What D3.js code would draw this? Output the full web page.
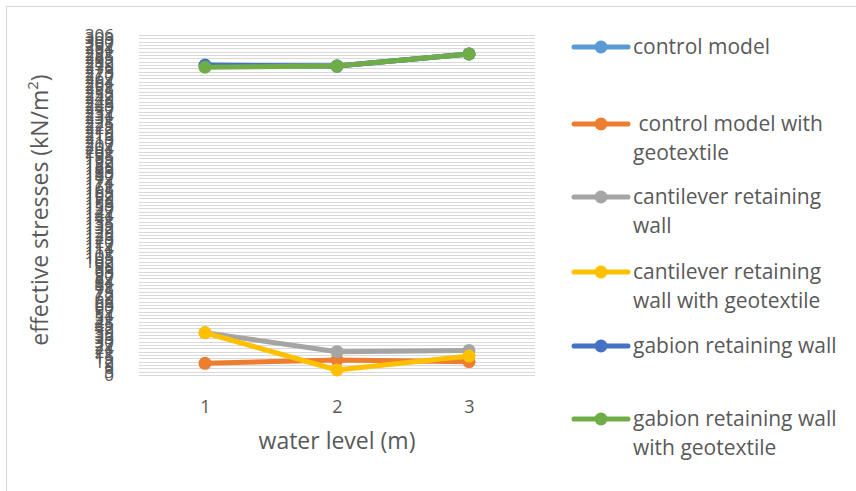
<!DOCTYPE html>
<html><head><meta charset="utf-8">
<script src="https://cdn.jsdelivr.net/npm/d3@7"></script>
<style>body{margin:0;background:#fff}svg{display:block;font-family:"Open Sans","Liberation Sans",sans-serif}</style>
</head><body><svg id="c" width="856" height="491"></svg>
<script>
const categories = [1, 2, 3];
const seriesNames = ["control model", " control model with geotextile", "cantilever retaining wall", "cantilever retaining wall with geotextile", "gabion retaining wall", "gabion retaining wall with geotextile"];
const controlModel = [278, 278, 289];
const controlModelGeo = [10.5, 13.5, 12];
const cantilever = [38, 21, 22];
const cantileverGeo = [38, 4.5, 17];
const gabion = [279, 278, 289];
const gabionGeo = [277, 278, 289];
const colors = ["#5B9BD5", "#ED7D31", "#A5A5A5", "#FFC000", "#4472C4", "#70AD47"];
const yTicks = d3.range(0, 307, 3);
const legendLines = [["control model"], [" control model with", "geotextile"], ["cantilever retaining", "wall"], ["cantilever retaining", "wall with geotextile"], ["gabion retaining wall"], ["gabion retaining wall", "with geotextile"]];

const series = [controlModel, controlModelGeo, cantilever, cantileverGeo, gabion, gabionGeo];
const svg = d3.select("#c");
svg.append("rect").attr("x", 6.5).attr("y", 6.5).attr("width", 860).attr("height", 500).attr("fill", "none").attr("stroke", "#D9D9D9");

const x = d3.scalePoint().domain(categories).range([205, 469]);
const y = d3.scaleLinear().domain([0, 306]).range([375, 35]);
const left = 139, right = 535;

const g = svg.append("g");
g.selectAll("line.grid").data(yTicks).join("line").attr("class", "grid")
  .attr("x1", left).attr("x2", right).attr("y1", d => Math.round(y(d)) + 0.5).attr("y2", d => Math.round(y(d)) + 0.5)
  .attr("stroke", "#D9D9D9").attr("stroke-width", 1);

const yAxis = d3.axisLeft(y).tickValues(yTicks).tickSize(0).tickPadding(0);
const ya = svg.append("g").attr("transform", "translate(114,0)").call(yAxis);
ya.select(".domain").remove();
ya.selectAll("text").attr("fill", "#595959").style("font-size", "17px").style("font-family", "Open Sans, sans-serif");

const xAxis = d3.axisBottom(x).tickSize(0).tickPadding(0);
const xa = svg.append("g").attr("transform", "translate(0,400)").call(xAxis);
xa.select(".domain").remove();
xa.selectAll("text").attr("fill", "#595959").style("font-size", "18px").style("font-family", "Open Sans, sans-serif").attr("dy", "0.71em");

svg.append("text").attr("x", 337).attr("y", 449).attr("text-anchor", "middle").attr("fill", "#595959").style("font-size", "23px").text("water level (m)");
svg.append("text").attr("transform", "translate(48,210) rotate(-90)").attr("text-anchor", "middle").attr("fill", "#595959").style("font-size", "23px")
  .html('effective stresses (kN/m<tspan baseline-shift="super" font-size="15px">2</tspan>)');

const line = d3.line().x((d, i) => x(categories[i])).y(d => y(d));
series.forEach((s, k) => {
  const sg = svg.append("g");
  sg.append("path").attr("d", line(s)).attr("fill", "none").attr("stroke", colors[k]).attr("stroke-width", 5).attr("stroke-linejoin", "round");
  sg.selectAll("circle").data(s).join("circle").attr("cx", (d, i) => x(categories[i])).attr("cy", d => y(d)).attr("r", 6.5).attr("fill", colors[k]);
});

const legY = [47, 124, 197, 272, 346, 419];
const lg = svg.append("g");
seriesNames.forEach((n, k) => {
  const yy = legY[k];
  lg.append("line").attr("x1", 574).attr("x2", 628).attr("y1", yy).attr("y2", yy).attr("stroke", colors[k]).attr("stroke-width", 5).attr("stroke-linecap", "round");
  lg.append("circle").attr("cx", 601).attr("cy", yy).attr("r", 6.5).attr("fill", colors[k]);
  const t = lg.append("text").attr("x", 633).attr("y", yy + 7).attr("fill", "#595959").style("font-size", "21px").attr("xml:space", "preserve");
  legendLines[k].forEach((l, j) => t.append("tspan").attr("x", 633).attr("dy", j === 0 ? 0 : 29).text(l));
});
</script></body></html>
